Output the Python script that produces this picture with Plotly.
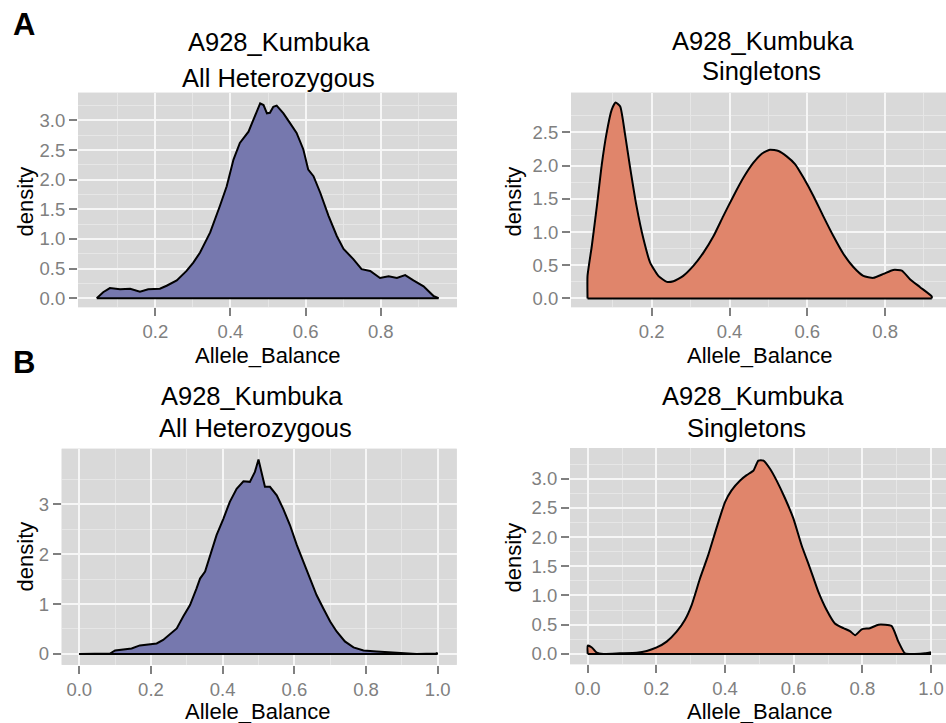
import plotly.graph_objects as go

W, H = 946, 723

# ---- Allele balance density curves -------------------------------------
# Panel A, all heterozygous sites
a_het_x = [0.044, 0.061, 0.079, 0.106, 0.133, 0.159, 0.181, 0.212, 0.230, 0.257,
           0.283, 0.301, 0.319, 0.346, 0.372, 0.390, 0.408, 0.425, 0.448, 0.465,
           0.479, 0.488, 0.497, 0.505, 0.514, 0.523, 0.541, 0.559, 0.576, 0.594,
           0.607, 0.621, 0.639, 0.661, 0.683, 0.701, 0.727, 0.749, 0.772, 0.798,
           0.821, 0.843, 0.865, 0.887, 0.914, 0.940, 0.954]
a_het_y = [0.00, 0.10, 0.17, 0.15, 0.16, 0.11, 0.15, 0.16, 0.21, 0.30,
           0.46, 0.60, 0.77, 1.11, 1.56, 1.89, 2.34, 2.62, 2.81, 3.07,
           3.29, 3.26, 3.12, 3.13, 3.23, 3.25, 3.12, 2.95, 2.79, 2.51,
           2.17, 2.06, 1.78, 1.39, 1.05, 0.83, 0.66, 0.49, 0.46, 0.34,
           0.37, 0.34, 0.39, 0.30, 0.20, 0.04, 0.00]

# Panel A, singletons
a_sing_x = [0.035, 0.035, 0.046, 0.059, 0.071, 0.084, 0.097, 0.107, 0.119, 0.131,
            0.144, 0.161, 0.179, 0.196, 0.217, 0.239, 0.256, 0.281, 0.307, 0.333,
            0.359, 0.384, 0.410, 0.436, 0.461, 0.483, 0.504, 0.526, 0.547, 0.569,
            0.590, 0.616, 0.641, 0.667, 0.693, 0.719, 0.744, 0.770, 0.796, 0.821,
            0.843, 0.864, 0.890, 0.920, 0.920]
a_sing_y = [0.00, 0.34, 0.79, 1.39, 1.99, 2.49, 2.84, 2.95, 2.89, 2.49,
            1.99, 1.39, 0.89, 0.54, 0.34, 0.25, 0.26, 0.34, 0.49, 0.69,
            0.94, 1.24, 1.54, 1.82, 2.04, 2.18, 2.24, 2.22, 2.14, 2.02,
            1.82, 1.54, 1.24, 0.94, 0.67, 0.47, 0.34, 0.31, 0.37, 0.43,
            0.42, 0.29, 0.17, 0.03, 0.00]

# Panel B, all heterozygous sites
b_het_x = [0.000, 0.086, 0.100, 0.123, 0.146, 0.169, 0.193, 0.216, 0.234, 0.253,
           0.272, 0.290, 0.309, 0.327, 0.337, 0.351, 0.365, 0.383, 0.402, 0.420,
           0.439, 0.458, 0.476, 0.490, 0.500, 0.509, 0.518, 0.532, 0.551, 0.569,
           0.588, 0.607, 0.625, 0.644, 0.662, 0.681, 0.700, 0.718, 0.741, 0.765,
           0.793, 0.830, 0.867, 0.904, 0.941, 0.995, 1.000]
b_het_y = [0.000, 0.007, 0.07, 0.09, 0.11, 0.17, 0.19, 0.21, 0.28, 0.39,
           0.51, 0.75, 0.98, 1.31, 1.51, 1.65, 1.98, 2.38, 2.71, 3.05,
           3.31, 3.46, 3.45, 3.65, 3.90, 3.65, 3.35, 3.35, 3.18, 2.91,
           2.58, 2.18, 1.85, 1.51, 1.18, 0.91, 0.65, 0.45, 0.25, 0.13,
           0.07, 0.05, 0.03, 0.013, 0.000, 0.007, 0.02]

# Panel B, singletons
b_sing_x = [0.000, 0.000, 0.012, 0.026, 0.046, 0.094, 0.143, 0.172, 0.201, 0.230,
            0.259, 0.283, 0.303, 0.327, 0.351, 0.376, 0.400, 0.419, 0.444, 0.463,
            0.483, 0.497, 0.512, 0.531, 0.550, 0.575, 0.599, 0.623, 0.648, 0.672,
            0.696, 0.720, 0.745, 0.764, 0.779, 0.798, 0.822, 0.847, 0.885, 0.905,
            0.924, 0.949, 0.983, 1.000]
b_sing_y = [0.00, 0.14, 0.11, 0.02, 0.00, 0.01, 0.02, 0.05, 0.11, 0.21,
            0.38, 0.58, 0.84, 1.29, 1.69, 2.17, 2.60, 2.80, 2.97, 3.06,
            3.14, 3.31, 3.31, 3.17, 2.97, 2.66, 2.32, 1.86, 1.46, 1.06,
            0.75, 0.52, 0.44, 0.39, 0.32, 0.42, 0.44, 0.50, 0.48, 0.21,
            0.01, 0.00, 0.01, 0.03]

sample = "A928_Kumbuka"
subsets = ["All Heterozygous", "Singletons"]
x_label = "Allele_Balance"
y_label = "density"

HET_FILL = "#7678AE"
SING_FILL = "#E0856B"
PANEL_BG = "#D9D9D9"
MAJOR_GRID = "#F6F6F6"
MINOR_GRID = "#E6E6E6"
TICK_GREY = "#808080"
FONT = "Liberation Sans, Arial, Helvetica, sans-serif"


def px_x(p):
    return p / W


def px_y(p):
    return 1 - p / H


# plot boxes in pixels: (left, right, top, bottom), axis ranges, ticks
panels = [
    dict(x=a_het_x, y=a_het_y, fill=HET_FILL, box=(78, 457, 93, 308),
         xr=[-0.0059, 1.003], yr=[-0.1515, 3.468],
         xt=[0.2, 0.4, 0.6, 0.8], xm=[0.1, 0.3, 0.5, 0.7, 0.9],
         yt=[0, 0.5, 1, 1.5, 2, 2.5, 3], ym=[0.25, 0.75, 1.25, 1.75, 2.25, 2.75, 3.25],
         int_y=False, shape="linear"),
    dict(x=a_sing_x, y=a_sing_y, fill=SING_FILL, box=(571, 946, 93, 308),
         xr=[-0.0075, 0.9566], yr=[-0.131, 3.098],
         xt=[0.2, 0.4, 0.6, 0.8], xm=[0.1, 0.3, 0.5, 0.7, 0.9],
         yt=[0, 0.5, 1, 1.5, 2, 2.5], ym=[0.25, 0.75, 1.25, 1.75, 2.25, 2.75],
         int_y=False, shape="spline"),
    dict(x=b_het_x, y=b_het_y, fill=HET_FILL, box=(61.7, 456.7, 450, 666.7),
         xr=[-0.049, 1.053], yr=[-0.22, 4.114],
         xt=[0, 0.2, 0.4, 0.6, 0.8, 1.0], xm=[0.1, 0.3, 0.5, 0.7, 0.9],
         yt=[0, 1, 2, 3], ym=[0.5, 1.5, 2.5, 3.5],
         int_y=True, shape="linear"),
    dict(x=b_sing_x, y=b_sing_y, fill=SING_FILL, box=(570, 946, 449.3, 666),
         xr=[-0.0516, 1.0437], yr=[-0.176, 3.524],
         xt=[0, 0.2, 0.4, 0.6, 0.8, 1.0], xm=[0.1, 0.3, 0.5, 0.7, 0.9],
         yt=[0, 0.5, 1, 1.5, 2, 2.5, 3], ym=[0.25, 0.75, 1.25, 1.75, 2.25, 2.75, 3.25],
         int_y=False, shape="spline"),
]

fig = go.Figure()
layout = {}

for i, p in enumerate(panels, start=1):
    sfx = "" if i == 1 else str(i)
    left, right, top, bottom = p["box"]
    line = dict(color="black", width=2)
    if p["shape"] == "spline":
        line.update(shape="spline", smoothing=0.5)
    # filled density curve
    fig.add_trace(go.Scatter(
        x=p["x"], y=p["y"], mode="lines", fill="tozeroy", fillcolor=p["fill"],
        line=line, xaxis="x" + sfx, yaxis="y" + sfx,
        showlegend=False, hoverinfo="skip",
    ))
    # baseline under the curve, spanning the data's range
    fig.add_trace(go.Scatter(
        x=[p["x"][0], p["x"][-1]], y=[0, 0], mode="lines",
        line=dict(color="black", width=2), xaxis="x" + sfx, yaxis="y" + sfx,
        showlegend=False, hoverinfo="skip",
    ))

    common = dict(
        showline=False, zeroline=False, showgrid=True,
        gridcolor=MAJOR_GRID, gridwidth=2,
        ticks="outside", ticklen=8, tickwidth=1.5, tickcolor=TICK_GREY,
        tickfont=dict(family=FONT, size=18.5, color=TICK_GREY),
        fixedrange=True,
    )
    layout["xaxis" + sfx] = dict(
        common, domain=[px_x(left), px_x(right)], range=p["xr"],
        anchor="y" + sfx, tickmode="array", tickvals=p["xt"],
        ticktext=[f"{v:.1f}" for v in p["xt"]],
        minor=dict(tickmode="array", tickvals=p["xm"], showgrid=True,
                   gridcolor=MINOR_GRID, gridwidth=1.2, ticks=""),
    )
    layout["yaxis" + sfx] = dict(
        common, domain=[px_y(bottom), px_y(top)], range=p["yr"],
        anchor="x" + sfx, tickmode="array", tickvals=p["yt"],
        ticktext=[str(int(v)) if p["int_y"] else f"{v:.1f}" for v in p["yt"]],
        minor=dict(tickmode="array", tickvals=p["ym"], showgrid=True,
                   gridcolor=MINOR_GRID, gridwidth=1.2, ticks=""),
    )

shapes = []
for p in panels:
    left, right, top, bottom = p["box"]
    shapes.append(dict(type="rect", xref="paper", yref="paper", layer="below",
                       x0=px_x(left), x1=px_x(right), y0=px_y(bottom), y1=px_y(top),
                       fillcolor=PANEL_BG, line=dict(width=0)))

annotations = []


def text(s, x, y, size, bold=False, angle=0):
    annotations.append(dict(
        text=f"<b>{s}</b>" if bold else s, x=px_x(x), y=px_y(y),
        xref="paper", yref="paper", xanchor="center", yanchor="middle",
        showarrow=False, textangle=angle,
        font=dict(family=FONT, size=size, color="black"),
    ))


# panel letters
text("A", 24, 25, 31, bold=True)
text("B", 24, 364, 31, bold=True)

# titles: sample name and site subset
title_pos = [
    ((279, 42), (278.3, 78)),
    ((762.5, 41), (761.7, 71)),
    ((251.7, 397), (255, 429)),
    ((753, 397), (746, 429)),
]
for k, ((x1, y1), (x2, y2)) in enumerate(title_pos):
    text(sample, x1, y1, 25.5)
    text(subsets[k % 2], x2, y2, 25.5)

# axis titles
for (xl, yl) in [(268, 356), (760, 356), (257.5, 713), (760, 713)]:
    text(x_label, xl, yl, 22)
for (xd, yd) in [(25, 202), (513, 202), (25, 558), (513, 559)]:
    text(y_label, xd, yd, 22, angle=-90)

layout.update(
    width=W, height=H, margin=dict(l=0, r=0, t=0, b=0),
    paper_bgcolor="white", plot_bgcolor=PANEL_BG,
    shapes=shapes, annotations=annotations,
)
fig.update_layout(**layout)
fig.write_html("out.html")
